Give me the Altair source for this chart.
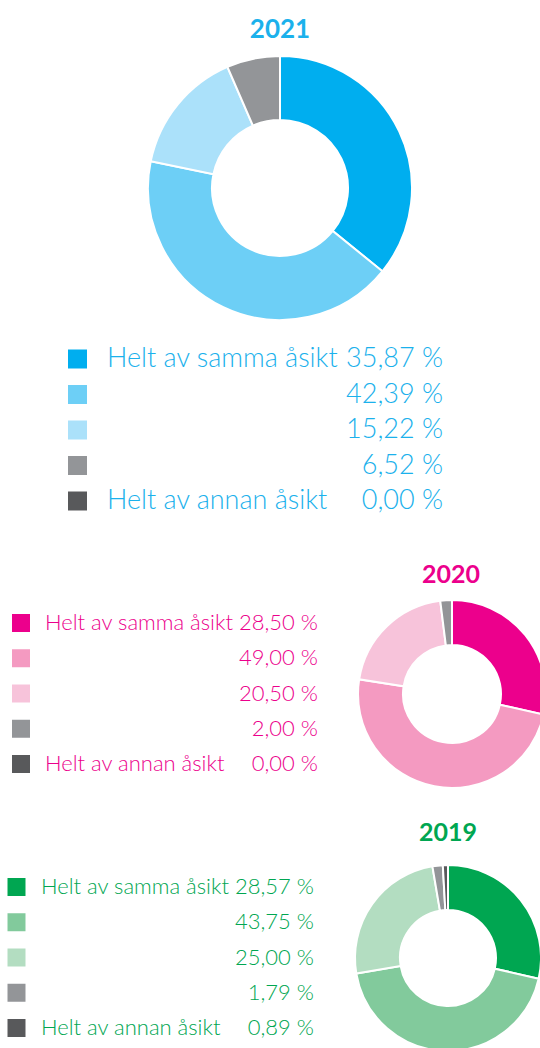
import altair as alt
import pandas as pd

# ---- data ----
cat_ids = [1, 2, 3, 4, 5]
labels = ["Helt av samma åsikt", "", "", "", "Helt av annan åsikt"]
years = ["2021", "2020", "2019"]
values_2021 = [35.87, 42.39, 15.22, 6.52, 0.00]
values_2020 = [28.50, 49.00, 20.50, 2.00, 0.00]
values_2019 = [28.57, 43.75, 25.00, 1.79, 0.89]

colors_2021 = ["#00AEEF", "#6DCFF6", "#ABE1FA", "#939598", "#58595B"]
colors_2020 = ["#EC008C", "#F49AC1", "#F7C3DA", "#939598", "#58595B"]
colors_2019 = ["#00A651", "#82CA9C", "#B3DDC1", "#939598", "#58595B"]
text_2021 = "#1BB1EC"
text_2020 = "#EC008C"
text_2019 = "#00A651"

FONT = "Lato"


def fmt(v):
    return f"{v:.2f}".replace(".", ",") + " %"


def make_df(values):
    return pd.DataFrame({
        "cat": cat_ids,
        "label": labels,
        "value": values,
        "valtext": [fmt(v) for v in values],
    })


def block(year, values, colors, tcolor, cx, cy, r_out, r_in, tx, ty, tsize,
          sq_x, sq_size, lab_x, val_x, row_range, fsize):
    df = make_df(values)
    base = alt.Chart(df)
    cscale = alt.Scale(domain=cat_ids, range=colors)
    arc = base.mark_arc(radius=r_out, innerRadius=r_in, stroke="white",
                        strokeWidth=2).encode(
        theta=alt.Theta("value:Q", stack=True),
        color=alt.Color("cat:O", scale=cscale, legend=None),
        order=alt.Order("cat:O"),
        x=alt.value(cx), y=alt.value(cy),
    )
    title = alt.Chart(pd.DataFrame({"year": [year]})).mark_text(
        font=FONT, fontWeight="bold", fontSize=tsize, color=tcolor,
        align="center", baseline="middle"
    ).encode(text="year:N", x=alt.value(tx), y=alt.value(ty))
    yenc = alt.Y("cat:O", scale=alt.Scale(range=row_range, type="point", padding=0), axis=None)
    squares = base.mark_square(size=sq_size * sq_size, opacity=1).encode(
        x=alt.value(sq_x), y=yenc,
        color=alt.Color("cat:O", scale=cscale, legend=None),
    )
    labs = base.mark_text(font=FONT, fontWeight=300, fontSize=fsize, color=tcolor,
                          align="left", baseline="middle").encode(
        text="label:N", x=alt.value(lab_x), y=yenc)
    vals = base.mark_text(font=FONT, fontWeight=300, fontSize=fsize, color=tcolor,
                          align="right", baseline="middle").encode(
        text="valtext:N", x=alt.value(val_x), y=yenc)
    return [arc, title, squares, labs, vals]


layers = []
layers += block("2021", values_2021, colors_2021, text_2021, 280, 188, 132, 68, 280, 30, 26,
                77.5, 19, 107, 443, [359, 501], 27)
layers += block("2020", values_2020, colors_2020, text_2020, 452, 694, 94, 49, 451, 575, 25,
                21, 18, 45, 318, [623, 764], 22)
layers += block("2019", values_2019, colors_2019, text_2019, 448, 958, 93, 48, 448, 833, 25,
                16.5, 18, 41, 314, [887, 1028], 22)

chart = alt.layer(*layers).resolve_scale(
    y="independent", color="independent", theta="independent"
).properties(width=540, height=1048, padding=0, autosize="none").configure_view(stroke=None)

chart.save("out.html", embed_options={"renderer": "svg", "actions": False})
